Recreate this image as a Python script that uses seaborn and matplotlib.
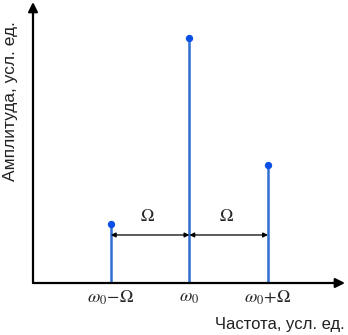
import matplotlib
matplotlib.use("Agg")
import matplotlib.pyplot as plt
import seaborn as sns
import pandas as pd

sns.set_style("white")
plt.rcParams['font.family'] = ['Liberation Sans', 'DejaVu Sans']
plt.rcParams['mathtext.fontset'] = 'stix'

# spectrum lines
freq = [-1, 0, 1]
amp = [0.24, 1.0, 0.48]
tick_labels = [r'$\omega_0\!-\!\Omega$', r'$\omega_0$', r'$\omega_0\!+\!\Omega$']
omega_label = r'$\Omega$'

df = pd.DataFrame({"freq": freq, "amp": amp})

fig = plt.figure(figsize=(3.48, 3.35), dpi=100)
ax = fig.add_axes([33 / 348, 52 / 335, 312 / 348, 281 / 335])

stem_col = "#2f6fd0"
dot_col = "#0b4fe6"
ax.vlines(df["freq"], 0, df["amp"], color=stem_col, lw=1.8, zorder=2)
sns.scatterplot(data=df, x="freq", y="amp", color=dot_col, s=28, edgecolor=dot_col,
                linewidth=0, ax=ax, zorder=3)

ax.set_xlim(-1.99, 1.98)
ax.set_ylim(0, 1.147)

# axes with arrows
for s in ax.spines.values():
    s.set_visible(False)
ax.annotate("", xy=(1.0, 0), xytext=(0, 0), xycoords="axes fraction",
            arrowprops=dict(arrowstyle="-|>", color="black", lw=1.6,
                            mutation_scale=14, shrinkA=0, shrinkB=0))
ax.annotate("", xy=(0, 1.0), xytext=(0, 0), xycoords="axes fraction",
            arrowprops=dict(arrowstyle="-|>", color="black", lw=1.6,
                            mutation_scale=14, shrinkA=0, shrinkB=0))

# Omega spacing arrows
y_arr = 0.196
for a, b in [(freq[0], freq[1]), (freq[1], freq[2])]:
    ax.annotate("", xy=(b, y_arr), xytext=(a, y_arr),
                arrowprops=dict(arrowstyle="<|-|>", color="black", lw=0.9,
                                mutation_scale=7, shrinkA=0, shrinkB=0))
    ax.text((a + b) / 2 - 0.03, 0.27, omega_label, ha="center", va="center",
            fontsize=13)

ax.set_xticks(freq)
ax.set_xticklabels(tick_labels, fontsize=13)
ax.set_yticks([])
ax.tick_params(axis="x", length=0, pad=4)
ax.set_xlabel("")
ax.set_ylabel("")

fig.text(345 / 348, 1 - 324 / 335, "Частота, усл. ед.", ha="right", va="center",
         fontsize=12, color="#222222")
fig.text(11 / 348, 1 - 101 / 335, "Амплитуда, усл. ед.", ha="center", va="center",
         rotation=90, fontsize=12.5, color="#222222")

fig.savefig("out.png", dpi=100)
